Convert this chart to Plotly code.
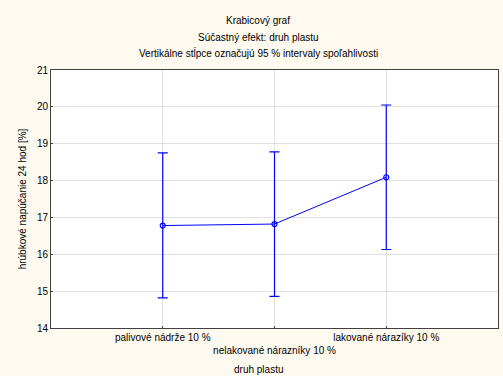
import plotly.graph_objects as go

categories = ["palivové nádrže 10 %", "nelakované nárazníky 10 %", "lakované nárazíky 10 %"]
means = [16.78, 16.82, 18.09]
upper = [18.75, 18.78, 20.05]
lower = [14.82, 14.86, 16.13]
tick_text = ["palivové nádrže 10 %", "<br>nelakované nárazníky 10 %", "lakované nárazíky 10 %"]
y_ticks = [14, 15, 16, 17, 18, 19, 20, 21]
title_lines = ["Krabicový graf", "Súčastný efekt: druh plastu",
               "Vertikálne stĺpce označujú 95 % intervaly spoľahlivosti"]
x_title = "druh plastu"

xpos = list(range(len(categories)))
err_plus = [u - m for u, m in zip(upper, means)]
err_minus = [m - l for m, l in zip(means, lower)]

FONT = "Liberation Sans, Arial, sans-serif"
BLUE = "#0000FF"

fig = go.Figure()
fig.add_trace(go.Scatter(
    x=xpos, y=means, mode="lines+markers",
    line=dict(color=BLUE, width=1),
    marker=dict(symbol="circle-open", size=5, color=BLUE, line=dict(width=1.2, color=BLUE)),
    error_y=dict(type="data", symmetric=False, array=err_plus, arrayminus=err_minus,
                 color=BLUE, thickness=1.2, width=5),
    showlegend=False, hoverinfo="skip",
))

ys = [20, 37, 53]
for t, yy in zip(title_lines, ys):
    fig.add_annotation(text=t, x=(258 - 51) / 447, xref="paper", y=1 + (70 - yy) / 258, yref="paper",
                       showarrow=False, font=dict(family=FONT, size=10, color="#000"),
                       xanchor="center", yanchor="middle")
fig.add_annotation(text=x_title, x=(258 - 51) / 447, xref="paper", y=(328 - 369) / 258, yref="paper",
                   showarrow=False, font=dict(family=FONT, size=10, color="#000"),
                   xanchor="center", yanchor="middle")

fig.update_layout(
    width=503, height=376,
    margin=dict(l=51, r=5, t=70, b=48),
    paper_bgcolor="#FFFAF0", plot_bgcolor="#FFFFFF",
    font=dict(family=FONT, size=10, color="#000"),
)
fig.update_xaxes(
    range=[-1, 3], tickvals=xpos, ticktext=tick_text, tickangle=0, automargin=False,
    showgrid=True, gridcolor="#E0E0E0", gridwidth=1,
    showline=True, linecolor="#404040", linewidth=1, mirror=True,
    ticks="inside", ticklen=2, tickcolor="#404040", zeroline=False,
    tickfont=dict(size=10),
)
fig.update_yaxes(
    range=[14, 21], tickvals=y_ticks, automargin=False,
    showgrid=True, gridcolor="#E0E0E0", gridwidth=1,
    showline=True, linecolor="#404040", linewidth=1, mirror=True,
    ticks="inside", ticklen=2, tickcolor="#404040", zeroline=False,
    title=dict(text="hrúbkové napúčanie 24 hod [%]", font=dict(size=10), standoff=8),
    tickfont=dict(size=10),
)

fig.write_html("out.html")
